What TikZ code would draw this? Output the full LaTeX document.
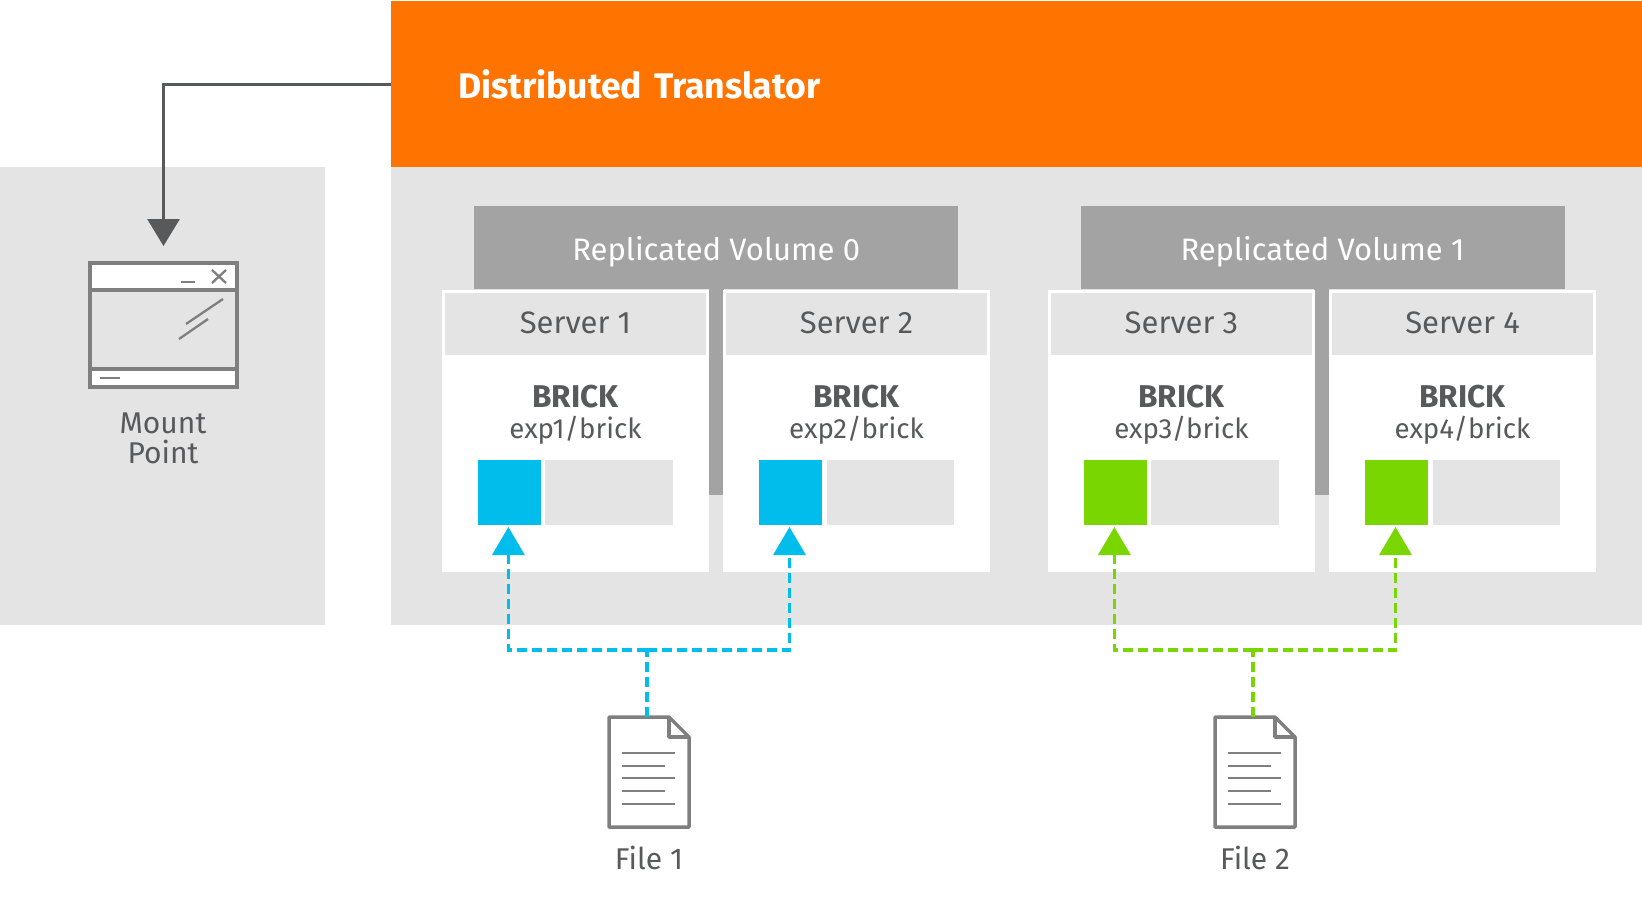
\documentclass[tikz,border=0pt]{standalone}
\usepackage{fontspec}
\setmainfont{Fira Sans}
\usetikzlibrary{arrows.meta,positioning}
\definecolor{orangebar}{HTML}{FF7300}
\definecolor{panelgrey}{HTML}{E4E4E4}
\definecolor{volgrey}{HTML}{A3A3A3}
\definecolor{textgrey}{HTML}{58595B}
\definecolor{icongrey}{HTML}{7F7F7F}
\definecolor{blueone}{HTML}{00BDEB}
\definecolor{greenone}{HTML}{7AD600}
\tikzset{
  box/.style = {rectangle, inner sep=0pt, outer sep=0pt, anchor=north west},
  panel/.style = {box, fill=panelgrey, minimum height=458pt},
  volume/.style = {box, fill=volgrey, text=white, minimum width=484pt, minimum height=83pt,
                   font=\fontsize{31}{30}\selectfont, text height=25pt, text depth=0pt},
  strip/.style = {box, fill=volgrey, minimum width=14.6pt, minimum height=206pt},
  server/.style = {box, fill=white, minimum width=266.5pt, minimum height=282pt},
  serverhead/.style = {rectangle, inner sep=0pt, outer sep=0pt, fill=panelgrey, text=textgrey,
                   minimum width=261pt, minimum height=62pt, font=\fontsize{31}{30}\selectfont,
                   text height=19pt, text depth=0pt},
  bricktitle/.style = {inner sep=0pt, outer sep=0pt, text=textgrey, font=\fontsize{31.5}{30}\selectfont\bfseries,
                   text height=21pt, text depth=0pt},
  brickpath/.style = {inner sep=0pt, outer sep=0pt, text=textgrey, font=\fontsize{27.7}{30}\selectfont,
                   text height=21pt, text depth=0pt},
  cell/.style = {box, minimum width=63pt, minimum height=65pt},
  rest/.style = {rectangle, inner sep=0pt, outer sep=0pt, fill=panelgrey, minimum width=127.5pt, minimum height=65pt},
  caption/.style = {inner sep=0pt, outer sep=0pt, text=textgrey, font=\fontsize{30}{30}\selectfont},
  winpart/.style = {rectangle, inner sep=0pt, outer sep=0pt, draw=icongrey, line width=4pt},
  iconline/.style = {draw=icongrey, line width=2.3pt},
  feed/.style = {line width=3.5pt, dash pattern=on 10pt off 5pt},
  feedtip/.style = {feed, -{Triangle[length=28pt,width=32pt]}, shorten >=2pt},
  docicon/.pic = {
    \draw[draw=icongrey, line width=3.5pt, line join=round, fill=white]
      (0,0) -- (60,0) -- (80,20) -- (80,110) -- (0,110) -- cycle;
    \draw[draw=icongrey, line width=3.5pt, line join=round] (60,0) -- (60,20) -- (80,20);
    \draw[iconline] (13,36) -- (66,36) (13,49) -- (56,49) (13,61) -- (66,61) (13,74) -- (56,74) (13,87) -- (66,87);
  }
}
\begin{document}
\begin{tikzpicture}[x=1pt, y=-1pt]
\useasboundingbox (0,0) rectangle (1642,922);
\node[box, fill=orangebar, text=white, minimum width=1251pt, minimum height=166pt, inner xsep=67pt,
      text width=1117pt, align=left, font=\fontsize{35.6}{38}\selectfont\bfseries] (dht) at (391,1) {Distributed Translator};
\node[panel, minimum width=325pt] (mountpanel) at (0,167) {};
\node[panel, minimum width=1251pt] (volpanel) at (391,167) {};
\node[volume] (vol0) at (474.2,206) {Replicated Volume 0};
\node[volume] (vol1) at (1080.5,206) {Replicated Volume 1};
\node[strip] (strip0) at (708.9,289) {};
\node[strip] (strip1) at (1314.4,289) {};
\node[server] (srv1) at (442.2,290) {};
\node[server, right=14.6pt of srv1] (srv2) {};
\node[server] (srv3) at (1048.2,290) {};
\node[server, right=14.6pt of srv3] (srv4) {};
\node[serverhead, below=3pt of srv1.north] (head1) {Server 1};
\node[serverhead, below=3pt of srv2.north] (head2) {Server 2};
\node[serverhead, below=3pt of srv3.north] (head3) {Server 3};
\node[serverhead, below=3pt of srv4.north] (head4) {Server 4};
\node[bricktitle, below=31pt of head1] (brick1) {BRICK};
\node[bricktitle, below=31pt of head2] (brick2) {BRICK};
\node[bricktitle, below=31pt of head3] (brick3) {BRICK};
\node[bricktitle, below=31pt of head4] (brick4) {BRICK};
\node[brickpath, below=10pt of brick1] (path1) {exp1/brick};
\node[brickpath, below=10pt of brick2] (path2) {exp2/brick};
\node[brickpath, below=10pt of brick3] (path3) {exp3/brick};
\node[brickpath, below=10pt of brick4] (path4) {exp4/brick};
\node[cell, fill=blueone, below right=170pt and 35.7pt of srv1.north west] (cell1) {};
\node[cell, fill=blueone, below right=170pt and 35.7pt of srv2.north west] (cell2) {};
\node[cell, fill=greenone, below right=170pt and 35.7pt of srv3.north west] (cell3) {};
\node[cell, fill=greenone, below right=170pt and 35.7pt of srv4.north west] (cell4) {};
\node[rest, right=4.5pt of cell1] (rest1) {};
\node[rest, right=4.5pt of cell2] (rest2) {};
\node[rest, right=4.5pt of cell3] (rest3) {};
\node[rest, right=4.5pt of cell4] (rest4) {};
\node[box, winpart, fill=panelgrey, minimum width=147pt, minimum height=124pt] (win) at (90,263) {};
\node[winpart, fill=white, minimum width=147pt, minimum height=27pt, below=0pt of win.north] (wintitle) {};
\node[winpart, fill=white, minimum width=147pt, minimum height=18pt, above=0pt of win.south] (winstatus) {};
\draw[iconline] (181,282) -- (195,282);
\draw[iconline] (212,270) -- (226,283) (226,270) -- (212,283);
\draw[iconline] (186,324) -- (223,299) (179,339) -- (208,319);
\draw[iconline] (100,378) -- (120,378);
\node[caption, align=center] (mountlabel) at (163,438) {Mount\\Point};
\pic at (609,717) {docicon};
\pic at (1215,717) {docicon};
\node[caption, anchor=base] (label1) at (649,869) {File 1};
\node[caption, anchor=base] (label2) at (1255,869) {File 2};
\coordinate (top1) at (647,717);
\coordinate (top2) at (1253,717);
\coordinate (fork1) at (647,650);
\coordinate (fork2) at (1253,650);
\draw[draw=textgrey, line width=3pt, -{Triangle[length=27pt,width=32pt]}, shorten >=17pt] (dht.west |- 0,84) -| (win.north);
\draw[feed, blueone] (top1) -- (fork1);
\draw[feedtip, blueone] (fork1) -| ([xshift=-1pt]cell1.south);
\draw[feedtip, blueone] (fork1) -| ([xshift=-1pt]cell2.south);
\draw[feed, greenone] (top2) -- (fork2);
\draw[feedtip, greenone] (fork2) -| ([xshift=-1pt]cell3.south);
\draw[feedtip, greenone] (fork2) -| ([xshift=-1pt]cell4.south);
\end{tikzpicture}
\end{document}
